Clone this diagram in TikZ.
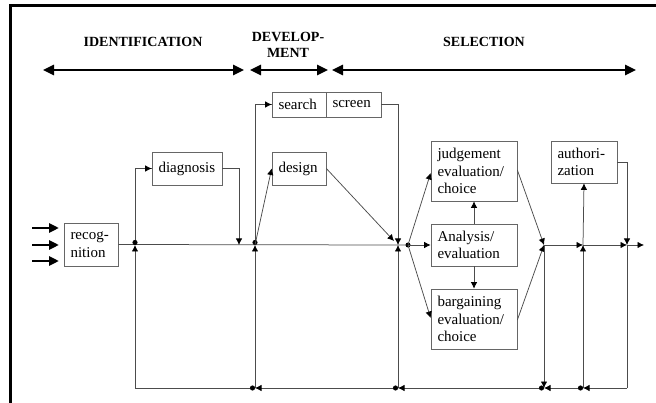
\documentclass[tikz,border=0pt]{standalone}
\usepackage{fontspec}
\setmainfont{Liberation Serif}
\usetikzlibrary{arrows.meta}
\begin{document}
\begin{tikzpicture}[x=1pt,y=-1pt,
  box/.style={draw=black!60, line width=0.7pt, inner xsep=6.5pt, inner ysep=0pt,
    font=\fontsize{15}{17.5}\selectfont, align=left},
  head/.style={font=\fontsize{14}{16}\selectfont\bfseries, align=center, inner sep=0pt},
  ln/.style={draw=black!70, line width=0.75pt},
  tip/.style={-{Latex[black,length=6.5pt,width=6.5pt]}},
  dot/.style={{Circle[black,length=5pt]}-},
  dottip/.style={{Circle[black,length=5pt]}-{Latex[black,length=6.5pt,width=6.5pt]}},
  span/.style={line width=2.5pt, {Triangle[length=11pt,width=10pt]}-{Triangle[length=11pt,width=10pt]}},
  input/.style={line width=2.5pt, -{Triangle[length=10pt,width=9pt]}}
]
\useasboundingbox (0,0) rectangle (656,403);

% frame edges
\draw[line width=3pt] (10.5,403) -- (10.5,5.5) -- (656,5.5);

% phase headings and spans
\node[head] (hid) at (143,42) {IDENTIFICATION};
\node[head] (hdev) at (288,45) {DEVELOP-\\MENT};
\node[head] (hsel) at (484,42) {SELECTION};
\coordinate (sa1) at (43,70);  \coordinate (sa2) at (244,70);
\coordinate (sb1) at (250,70); \coordinate (sb2) at (328,70);
\coordinate (sc1) at (332,70); \coordinate (sc2) at (636,70);
\draw[span] (sa1) -- (sa2);
\draw[span] (sb1) -- (sb2);
\draw[span] (sc1) -- (sc2);

% activity boxes
\node[box, text width=41pt, minimum height=43pt] (rec) at (91,244.5) {recog-\\nition};
\node[box, text width=57pt, minimum height=33pt] (diag) at (187,168.5) {diagnosis};
\node[box, text width=41pt, minimum height=33pt] (design) at (299,168.5) {design};
\node[box, text width=41pt, minimum height=25pt] (search) at (299,104.5) {search};
\node[box, text width=42pt, minimum height=25pt] (screen) at (353.5,104.5) {screen};
\node[box, text width=73pt, minimum height=60pt] (judg) at (474,171) {judgement\\evaluation/\\choice};
\node[box, text width=73pt, minimum height=42pt] (anal) at (474,245) {Analysis/\\evaluation};
\node[box, text width=73pt, minimum height=60pt] (barg) at (474,319) {bargaining\\evaluation/\\choice};
\node[box, text width=53pt, minimum height=42pt] (auth) at (584,162) {authori-\\zation};

% input arrows
\coordinate (i1) at (32,228); \coordinate (i1e) at (59,228);
\coordinate (i2) at (32,245); \coordinate (i2e) at (59,245);
\coordinate (i3) at (32,261); \coordinate (i3e) at (59,261);
\draw[input] (i1) -- (i1e);
\draw[input] (i2) -- (i2e);
\draw[input] (i3) -- (i3e);

% junctions on the main line and on the return line
\coordinate (jA) at (135,245);  \coordinate (jAb) at (135,388);
\coordinate (jDg) at (239,245);
\coordinate (jB) at (255,245);  \coordinate (jBb) at (255,388);
\coordinate (jC) at (398,245);  \coordinate (jCb) at (398,388);
\coordinate (jO) at (408,245);
\coordinate (jD) at (544,245);  \coordinate (jDb) at (544,388);
\coordinate (jE) at (583,245);  \coordinate (jEb) at (583,388);
\coordinate (jF) at (627,245);  \coordinate (jFb) at (627,388);
\coordinate (out) at (644,245);
\coordinate (jDin) at (394,241);

% main line
\draw[ln] (rec.east) -- (jC) -- (jO);
\fill[black] (jO) circle (2.5pt);

% identification loop
\draw[ln,tip] (jAb) -- (jA);
\draw[ln,dot] (jA) |- (diag.west);
\draw[ln,tip] (jA |- diag.west) -- (diag.west);
\draw[ln,tip] (diag.east) -| (jDg);

% development loop
\draw[ln,tip] (jBb) -- (jB);
\draw[ln,dot] (jB) |- (search.west);
\draw[ln,tip] (jB |- search.west) -- (search.west);
\draw[ln,tip] (jB) -- (design.west);
\draw[ln,tip] (design.east) -- (jDin);
\draw[ln,tip] (screen.east) -| (jC);
\draw[ln,tip] (jCb) -- (jC);

% selection
\draw[ln,tip] (jO) -- (anal.west);
\draw[ln,tip] (jO) -- (judg.west |- 0,173);
\draw[ln,tip] (jO) -- (barg.west |- 0,318);
\draw[ln,tip] (anal.north) -- (judg.south);
\draw[ln,tip] (anal.south) -- (barg.north);
\draw[ln,tip] (judg.east |- 0,170) -- (jD);
\draw[ln,tip] (barg.east |- 0,320) -- (jD);

% authorization and output
\draw[ln,tip] (jD) -- (jE);
\draw[ln,tip] (jE) -- (jF);
\draw[ln,tip] (jF) -- (out);
\draw[ln,tip] (jD) -- (jDb);
\draw[ln,tip] (jEb) -- (jE);
\draw[ln,tip] (jE) -- (auth.south);
\draw[ln,tip] (auth.east) -| (jF);
\draw[ln] (jF) -- (jFb);

% return line
\draw[ln,tip] (jFb) -- (jEb);
\draw[ln,dottip] (jEb) -- (jDb);
\draw[ln,dottip] (jDb) -- (jCb);
\draw[ln,dottip] (jCb) -- (jBb);
\draw[ln,dot] (jBb) -- (jAb);
\end{tikzpicture}
\end{document}
